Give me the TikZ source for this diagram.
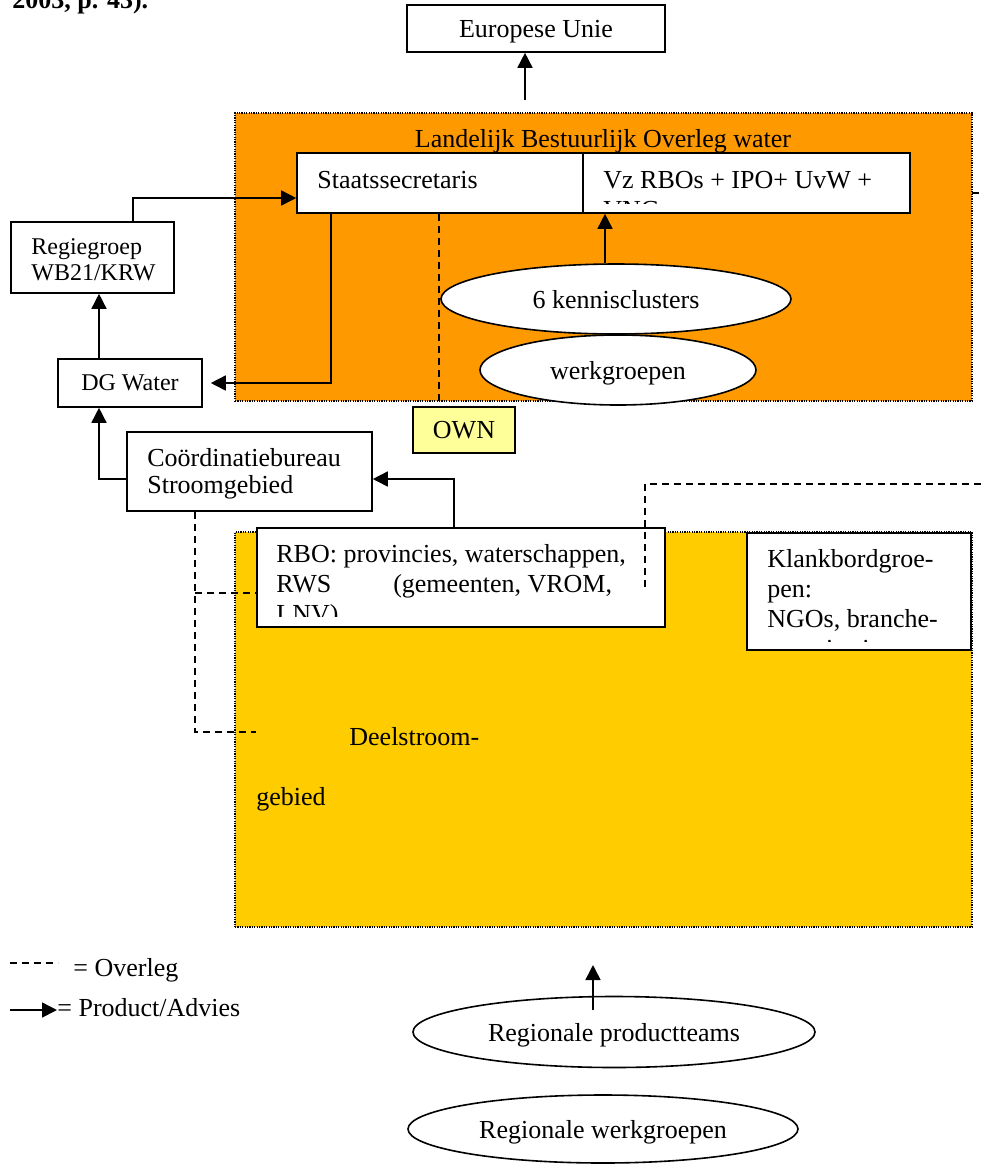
\documentclass[tikz,border=0pt]{standalone}
\usepackage{fontspec}
\setmainfont{Liberation Serif}
\usetikzlibrary{arrows.meta,shapes.geometric}
\definecolor{oranje}{RGB}{255,153,0}
\definecolor{geel}{RGB}{255,204,0}
\definecolor{lichtgeel}{RGB}{255,255,153}
\tikzset{box/.style={draw, fill=white, line width=0.8pt, inner sep=0pt}}
\tikzset{region/.style={draw, line width=0.6pt, dash pattern=on 0.6pt off 0.6pt, inner sep=0pt}}
\tikzset{oval/.style={ellipse, draw, fill=white, line width=0.8pt, inner sep=0pt, text depth=0pt}}
\tikzset{link/.style={line width=0.8pt, -{Triangle[length=7.5pt,width=7.5pt]}}}
\tikzset{talk/.style={line width=0.7pt, dash pattern=on 3.5pt off 2.5pt}}
\tikzset{txt/.style={anchor=base west, inner sep=0pt}}
\newcommand{\klein}{\fontsize{12}{14}\selectfont}

\begin{document}
\begin{tikzpicture}[x=0.5pt, y=-0.5pt, font=\fontsize{13}{15}\selectfont]
        \useasboundingbox (0,0) rectangle (984,1164);
        \clip (0,0) rectangle (984,1164);
        % Caption fragment at the top
        \node[txt, font=\fontsize{13}{15}\selectfont\bfseries] (kop) at (12,8) {2003, p. 43).};
        % Europese Unie
        \node[box, minimum width=129pt, minimum height=23.5pt, text depth=0pt] (eu) at (536,28.5) {Europese Unie};
        % Landelijk Bestuurlijk Overleg water
        \node[region, fill=oranje, minimum width=368.5pt, minimum height=144pt] (lbo) at (603.5,257) {};
        \node[anchor=base, inner sep=0pt] (lbotitel) at (603,147) {Landelijk Bestuurlijk Overleg water};
        \node[box, minimum width=306.5pt, minimum height=30pt] (staat) at (603.5,183) {};
        \coordinate (deler) at (583,0);
        \draw[line width=0.8pt] (staat.north -| deler) -- (staat.south -| deler);
        \node[txt] (staattxt) at (317,188) {Staatssecretaris};
        \begin{scope}
            \clip (584,154) rectangle (909,203);
            \node[txt] (vz1) at (603,188) {Vz RBOs + IPO+ UvW +};
            \node[txt] (vz2) at (603,218) {VNG};
        \end{scope}
        \node[oval, minimum width=175pt, minimum height=35pt] (kennis) at (616,299) {6 kennisclusters};
        \node[oval, minimum width=138pt, minimum height=35pt] (werk) at (618,370) {werkgroepen};
        \coordinate (tik) at (972,193);
        \draw[line width=0.6pt] (tik) -- ++(7,0);
        % Left column
        \node[box, minimum width=81.5pt, minimum height=35.5pt] (regie) at (92.5,257.5) {};
        \node[txt, font=\klein] (regie1) at (31,254) {Regiegroep};
        \node[txt, font=\klein] (regie2) at (31,280) {WB21/KRW};
        \node[box, minimum width=72pt, minimum height=24pt, text depth=0pt, font=\klein] (dgw) at (130,383) {DG Water};
        \node[box, fill=lichtgeel, minimum width=51pt, minimum height=23pt, text depth=0pt] (own) at (464,430) {OWN};
        \node[box, minimum width=122.5pt, minimum height=39.5pt] (coord) at (249.5,471.5) {};
        \node[txt] (coord1) at (147,466) {Coördinatiebureau};
        \node[txt] (coord2) at (147,493) {Stroomgebied};
        % Deelstroomgebied
        \node[region, fill=geel, minimum width=368.5pt, minimum height=197.5pt] (deel) at (603.5,729.5) {};
        \node[txt] (deel1) at (349,745) {Deelstroom-};
        \node[txt] (deel2) at (256,805) {gebied};
        \node[box, minimum width=204pt, minimum height=49.5pt] (rbo) at (461,577.5) {};
        \begin{scope}
            \clip (258,529) rectangle (664,616);
            \node[txt] (rbo1) at (276,562) {RBO: provincies, waterschappen,};
            \node[txt] (rbo2) at (276,592) {RWS\hspace*{31pt}(gemeenten, VROM,};
            \node[txt] (rbo3) at (276,622) {LNV)};
        \end{scope}
        \node[box, minimum width=112pt, minimum height=58.5pt] (klank) at (859,591.5) {};
        \begin{scope}
            \clip (748,534) rectangle (970,641);
            \node[txt] (klank1) at (767,567) {Klankbordgroe-};
            \node[txt] (klank2) at (767,597) {pen:};
            \node[txt] (klank3) at (767,627) {NGOs, branche-};
            \node[txt] (klank4) at (767,657) {organisaties};
        \end{scope}
        % Regional teams
        \node[oval, minimum width=201pt, minimum height=35.5pt] (prod) at (614,1032) {Regionale productteams};
        \node[oval, minimum width=195pt, minimum height=34pt] (rwerk) at (603,1129) {Regionale werkgroepen};
        % Product / advies
        \coordinate (eupijl) at (525,100);
        \draw[link] (eupijl) -- (eupijl |- eu.south);
        \coordinate (regiepijl) at (133,198);
        \draw[link] (regie.north -| regiepijl) |- (staat.west |- regiepijl);
        \coordinate (dgpijl) at (331,0);
        \draw[link] (staat.south -| dgpijl) |- ([xshift=4pt]dgw.east);
        \coordinate (kolom) at (99,0);
        \draw[link] (dgw.north -| kolom) -- (regie.south -| kolom);
        \coordinate (coordpijl) at (127,479);
        \draw[link] (coord.west |- coordpijl) -| (dgw.south -| kolom);
        \coordinate (rbopijl) at (454,479);
        \draw[link] (rbo.north -| rbopijl) |- (coord.east |- rbopijl);
        \coordinate (kennispijl) at (605,0);
        \draw[link] (kennis.north -| kennispijl) -- (staat.south -| kennispijl);
        \coordinate (prodvoet) at (593,1010);
        \coordinate (prodpijl) at (593,965);
        \draw[link] (prodvoet) -- (prodpijl);
        % Overleg
        \coordinate (ownlijn) at (439,0);
        \draw[talk] (staat.south -| ownlijn) -- (own.north -| ownlijn);
        \coordinate (coordlijn) at (195,0);
        \coordinate (rbolijn) at (0,593);
        \coordinate (deellijn) at (0,732);
        \draw[talk] (coord.south -| coordlijn) -- (coordlijn |- deellijn) -- (rbo.west |- deellijn);
        \draw[talk] (coordlijn |- rbolijn) -- (rbo.west |- rbolijn);
        \coordinate (klanklijn) at (645,587);
        \coordinate (rand) at (984,484);
        \draw[talk] (klanklijn) |- (rand);
        % Legend
        \coordinate (leg1) at (10,963);
        \draw[talk] (leg1) -- ++(48,0);
        \node[txt] (legover) at (73,976) {= Overleg};
        \coordinate (leg2) at (10,1010);
        \draw[link] (leg2) -- ++(47,0);
        \node[txt] (legprod) at (57,1016) {= Product/Advies};
    \end{tikzpicture}
\end{document}
